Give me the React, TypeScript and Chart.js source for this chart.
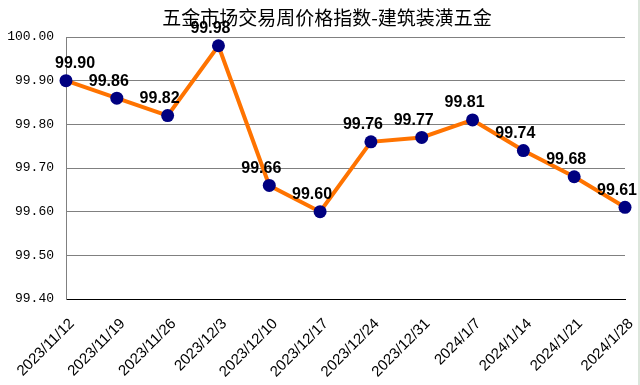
import React, { useEffect, useRef } from "react";
import { Chart, registerables } from "chart.js";

Chart.register(...registerables);

const chartTitle = "五金市场交易周价格指数-建筑装潢五金";
const categories = [
  "2023/11/12",
  "2023/11/19",
  "2023/11/26",
  "2023/12/3",
  "2023/12/10",
  "2023/12/17",
  "2023/12/24",
  "2023/12/31",
  "2024/1/7",
  "2024/1/14",
  "2024/1/21",
  "2024/1/28",
];
const indexValues = [99.9, 99.86, 99.82, 99.98, 99.66, 99.6, 99.76, 99.77, 99.81, 99.74, 99.68, 99.61];
const yMin = 99.4;
const yMax = 100.0;
const yStep = 0.1;

export default function App() {
  const ref = useRef<HTMLCanvasElement>(null);

  useEffect(() => {
    document.body.style.margin = "0";
    const canvas = ref.current;
    if (!canvas) return;

    const labelPlugin = {
      id: "pointValueLabels",
      afterDatasetsDraw(chart: any) {
        const ctx = chart.ctx;
        const meta = chart.getDatasetMeta(0);
        ctx.save();
        ctx.font = "bold 16px 'Liberation Sans', Arial, sans-serif";
        ctx.fillStyle = "#000";
        ctx.textAlign = "center";
        ctx.textBaseline = "middle";
        meta.data.forEach((pt: any, i: number) => {
          const text = indexValues[i].toFixed(2);
          const w = ctx.measureText(text).width;
          let x = pt.x - 8;
          const minX = chart.chartArea.left - 11 + w / 2;
          if (x < minX) x = minX;
          ctx.fillText(text, x, pt.y - 17);
        });
        ctx.restore();
      },
    };

    const titlePlugin = {
      id: "customTitle",
      afterDraw(chart: any) {
        const ctx = chart.ctx;
        ctx.save();
        ctx.font = "19px 'Noto Sans CJK SC', sans-serif";
        ctx.fillStyle = "#000";
        ctx.textAlign = "center";
        ctx.textBaseline = "middle";
        ctx.fillText(chartTitle, 327, 18);
        ctx.restore();
      },
    };

    const chart = new Chart(canvas, {
      type: "line",
      data: {
        labels: categories,
        datasets: [
          {
            data: indexValues,
            borderColor: "#FF7300",
            borderWidth: 4,
            pointBackgroundColor: "#000080",
            pointBorderColor: "#000080",
            pointBorderWidth: 0,
            pointRadius: 6.5,
            tension: 0,
            clip: false as any,
          },
        ],
      },
      options: {
        animation: false,
        responsive: false,
        layout: { padding: { top: 37, right: 15, left: 0, bottom: 0 } },
        plugins: {
          legend: { display: false },
          title: { display: false },
          tooltip: { enabled: false },
        },
        scales: {
          x: {
            offset: false,
            grid: { display: false, drawTicks: false },
            border: { color: "#000", width: 1 },
            ticks: {
              autoSkip: false,
              maxRotation: 45,
              minRotation: 45,
              color: "#000",
              padding: 16,
              labelOffset: 6,
              font: { family: "'Liberation Sans', Arial, sans-serif", size: 15 },
            },
            afterFit: (s: any) => {
              s.height = 86;
              s.paddingLeft = 0;
              s.paddingRight = 0;
            },
          },
          y: {
            min: yMin,
            max: yMax,
            ticks: {
              stepSize: yStep,
              color: "#000",
              padding: 12,
              font: { family: "'Liberation Mono', monospace", size: 13 },
              callback: (v: any) => Number(v).toFixed(2),
            },
            grid: { color: "#808080", drawTicks: false },
            border: { color: "#808080" },
            afterFit: (s: any) => {
              s.width = 66;
              s.paddingTop = 0;
              s.paddingBottom = 0;
            },
          },
        },
      },
      plugins: [labelPlugin, titlePlugin],
    });

    return () => chart.destroy();
  }, []);

  return (
    <div style={{ position: "relative", width: 640, height: 385, background: "#fff" }}>
      <canvas ref={ref} width={640} height={385} style={{ display: "block" }} />
      <div style={{ position: "absolute", left: 638, top: 0, width: 2, height: 385, background: "#dce6dc" }} />
    </div>
  );
}
